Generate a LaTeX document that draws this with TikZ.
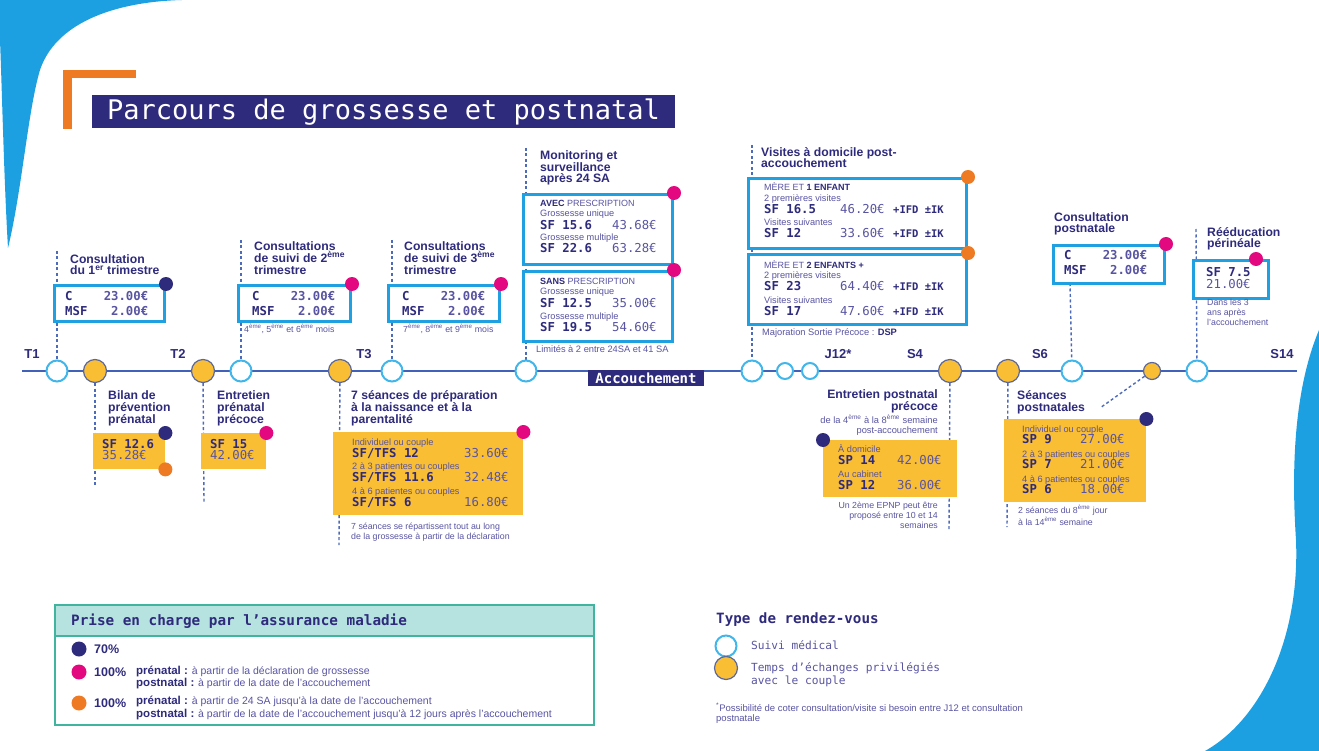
\documentclass[tikz,border=0pt]{standalone}
\usepackage{fontspec}
\setmainfont{Liberation Sans}
\newfontfamily\mono{DejaVu Sans Mono}
\usepackage{tikz}
\usetikzlibrary{backgrounds}

\definecolor{marine}{RGB}{46,42,124}
\definecolor{lilas}{RGB}{88,84,162}
\definecolor{cyanb}{RGB}{30,160,225}
\definecolor{ciel}{RGB}{64,182,234}
\definecolor{jaune}{RGB}{249,190,52}
\definecolor{grisbleu}{RGB}{90,104,158}
\definecolor{ligne}{RGB}{66,98,186}
\definecolor{pointill}{RGB}{78,106,186}
\definecolor{rose}{RGB}{228,8,128}
\definecolor{orangep}{RGB}{239,122,36}
\definecolor{vague}{RGB}{28,160,225}
\definecolor{turquoise}{RGB}{64,180,158}
\definecolor{bleuvert}{RGB}{182,226,223}

\newcommand{\fttl}{\fontsize{12.2}{11.7}\selectfont\bfseries}
\newcommand{\fcap}{\fontsize{9}{12}\selectfont}
\newcommand{\fsub}{\fontsize{9.2}{12}\selectfont\color{lilas}}
\newcommand{\fnote}{\fontsize{8.8}{9.6}\selectfont}
\newcommand{\fcode}{\fontsize{12.3}{12}\selectfont\mono\bfseries}
\newcommand{\fval}{\fontsize{12.3}{12}\selectfont\mono\color{lilas}}
\newcommand{\fifd}{\fontsize{10.5}{12}\selectfont\mono\bfseries}
\newcommand{\eme}{\textsuperscript{ème}}

\tikzstyle{suivi} = [circle, draw=ciel, line width=2, fill=white, minimum size=21, inner sep=0]
\tikzstyle{petit} = [suivi, minimum size=16]
\tikzstyle{temps} = [circle, draw=grisbleu, line width=1.2, fill=jaune, minimum size=23, inner sep=0]
\tikzstyle{tempsp} = [temps, minimum size=17]
\tikzstyle{cbox} = [draw=cyanb, line width=3, fill=white, anchor=north west, inner sep=0]
\tikzstyle{ybox} = [fill=jaune, anchor=north west, inner sep=0]
\tikzstyle{pnavy} = [circle, fill=marine, minimum size=14, inner sep=0]
\tikzstyle{prose} = [circle, fill=rose, minimum size=14, inner sep=0]
\tikzstyle{porange} = [circle, fill=orangep, minimum size=14, inner sep=0]
\tikzstyle{pointille} = [draw=pointill, line width=1.4, dash pattern=on 3pt off 2.5pt]
\tikzstyle{ttl} = [text=marine, font=\fttl, align=left, anchor=base west, inner sep=0]
\tikzstyle{boxtxt} = [text=marine, font=\fontsize{9}{12}\selectfont, align=left, anchor=base west, inner sep=0]
\tikzstyle{remarque} = [text=lilas, font=\fnote, align=left, anchor=base west, inner sep=0]
\tikzstyle{repere} = [text=marine, font=\fontsize{13}{13}\selectfont\bfseries, anchor=base, inner sep=0]
\tikzstyle{legtxt} = [text=marine, align=left, anchor=base west, inner sep=0]

\begin{document}
\begin{tikzpicture}[x=1pt, y=-1pt]
	\useasboundingbox (0,0) rectangle (1319,751);
	\fill[orangep] (63,70) rectangle (136,78);
	\fill[orangep] (63,70) rectangle (72,129);
	\node (titre) [fill=marine, text=white, anchor=north west, minimum height=33, inner xsep=15, inner ysep=0, font=\fontsize{27}{27}\selectfont\mono] at (92,95) {Parcours de grossesse et postnatal};

	\coordinate (tdeb) at (22,371);
	\coordinate (tfin) at (1297,371);
	\node (c1) [suivi] at (57,371) {};
	\node (c2) [temps] at (95,371) {};
	\node (c3) [temps] at (203,371) {};
	\node (c4) [suivi] at (241,371) {};
	\node (c5) [temps] at (340,371) {};
	\node (c6) [suivi] at (392,371) {};
	\node (c7) [suivi] at (526,371) {};
	\node (acc) [fill=marine, text=white, font=\fontsize{14}{14}\selectfont\mono\bfseries, minimum width=116, minimum height=16, inner sep=0] at (646,378) {Accouchement};
	\node (c8) [suivi] at (752,371) {};
	\node (c9) [petit] at (785,371) {};
	\node (c10) [petit] at (810,371) {};
	\node (c11) [temps] at (950,371) {};
	\node (c12) [temps] at (1008,371) {};
	\node (c13) [suivi] at (1072,371) {};
	\node (c14) [tempsp] at (1152,371) {};
	\node (c15) [suivi] at (1197,371) {};

	\node (lT1) [repere] at (32,358) {T1};
	\node (lT2) [repere] at (178,358) {T2};
	\node (lT3) [repere] at (364,358) {T3};
	\node (lJ12) [repere] at (838,358) {J12*};
	\node (lS4) [repere] at (915,358) {S4};
	\node (lS6) [repere] at (1040,358) {S6};
	\node (lS14) [repere] at (1282,358) {S14};

	\node (h1) [ttl] at (70,275) {Consultation\\du 1\textsuperscript{er} trimestre};
	\node (b1) [cbox, minimum width=110, minimum height=36] at (53,284) {};
	\node (p1) [pnavy] at (b1.north east) {};
	\node (v1) [boxtxt] at (65,315) {\makebox[83pt]{\fcode C\hfill\fval 23.00€}\\[3pt]\makebox[83pt]{\fcode MSF\hfill\fval 2.00€}};

	\node (h2) [ttl] at (254,274) {Consultations\\de suivi de 2\eme\\trimestre};
	\node (b2) [cbox, minimum width=112, minimum height=36] at (237,284) {};
	\node (p2) [prose] at (b2.north east) {};
	\node (v2) [boxtxt] at (252,315) {\makebox[83pt]{\fcode C\hfill\fval 23.00€}\\[3pt]\makebox[83pt]{\fcode MSF\hfill\fval 2.00€}};
	\node (n2) [remarque] at (244,332) {4\eme, 5\eme\ et 6\eme\ mois};

	\node (h3) [ttl] at (404,274) {Consultations\\de suivi de 3\eme\\trimestre};
	\node (b3) [cbox, minimum width=111, minimum height=36] at (387,284) {};
	\node (p3) [prose] at (b3.north east) {};
	\node (v3) [boxtxt] at (402,315) {\makebox[83pt]{\fcode C\hfill\fval 23.00€}\\[3pt]\makebox[83pt]{\fcode MSF\hfill\fval 2.00€}};
	\node (n3) [remarque] at (403,332) {7\eme, 8\eme\ et 9\eme\ mois};

	\node (hm) [ttl] at (540,183) {Monitoring et\\surveillance\\après 24 SA};
	\node (bm1) [cbox, minimum width=149, minimum height=70] at (522,193) {};
	\node (pm1) [prose] at (bm1.north east) {};
	\node (vm1) [boxtxt] at (540,253) {{\fcap\textbf{AVEC} {\color{lilas}PRESCRIPTION}}\\[-2pt]{\fsub Grossesse unique}\\[1pt]\makebox[72pt][l]{\fcode SF 15.6}{\fval 43.68€}\\[-0.5pt]{\fsub Grossesse multiple}\\\makebox[72pt][l]{\fcode SF 22.6}{\fval 63.28€}};
	\node (bm2) [cbox, minimum width=149, minimum height=70] at (522,270) {};
	\node (pm2) [prose] at (bm2.north east) {};
	\node (vm2) [boxtxt] at (540,331) {{\fcap\textbf{SANS} {\color{lilas}PRESCRIPTION}}\\[-2pt]{\fsub Grossesse unique}\\[1pt]\makebox[72pt][l]{\fcode SF 12.5}{\fval 35.00€}\\[-0.5pt]{\fsub Grossesse multiple}\\\makebox[72pt][l]{\fcode SF 19.5}{\fval 54.60€}};
	\node (nm) [remarque, font=\fontsize{9.3}{10}\selectfont] at (536,352) {Limités à 2 entre 24SA et 41 SA};

	\node (hv) [ttl] at (761,168) {Visites à domicile post-\\accouchement};
	\node (bv1) [cbox, minimum width=218, minimum height=70] at (747,177) {};
	\node (pv1) [porange] at (bv1.north east) {};
	\node (vv1) [boxtxt] at (764,238) {{\fcap{\color{lilas}MÈRE ET} \textbf{1 ENFANT}}\\[-1.5pt]{\fsub 2 premières visites}\\\makebox[76pt][l]{\fcode SF 16.5}\makebox[53pt][l]{\fval 46.20€}{\fifd +IFD ±IK}\\[0.5pt]{\fsub Visites suivantes}\\\makebox[76pt][l]{\fcode SF 12}\makebox[53pt][l]{\fval 33.60€}{\fifd +IFD ±IK}};
	\node (bv2) [cbox, minimum width=218, minimum height=70] at (747,253) {};
	\node (pv2) [porange] at (bv2.north east) {};
	\node (vv2) [boxtxt] at (764,315) {{\fcap{\color{lilas}MÈRE ET} \textbf{2 ENFANTS +}}\\[-1.5pt]{\fsub 2 premières visites}\\\makebox[76pt][l]{\fcode SF 23}\makebox[53pt][l]{\fval 64.40€}{\fifd +IFD ±IK}\\[0.5pt]{\fsub Visites suivantes}\\\makebox[76pt][l]{\fcode SF 17}\makebox[53pt][l]{\fval 47.60€}{\fifd +IFD ±IK}};
	\node (nv) [remarque, font=\fontsize{9.3}{10}\selectfont] at (762,335) {Majoration Sortie Précoce : {\color{marine}\bfseries DSP}};

	\node (hc) [ttl] at (1054,233) {Consultation\\postnatale};
	\node (bc) [cbox, minimum width=111, minimum height=38] at (1052,244) {};
	\node (pc) [prose] at (bc.north east) {};
	\node (vc) [boxtxt] at (1064,274) {\makebox[83pt]{\fcode C\hfill\fval 23.00€}\\[2pt]\makebox[83pt]{\fcode MSF\hfill\fval 2.00€}};
	\coordinate (kc) at (1070,283);

	\node (hr) [ttl] at (1207,248) {Rééducation\\périnéale};
	\node (br) [cbox, minimum width=75, minimum height=38] at (1192,259) {};
	\node (pr) [prose] at (1256,259) {};
	\node (vr) [boxtxt] at (1206,288) {{\fcode SF 7.5}\\{\fval 21.00€}};
	\node (nr) [remarque] at (1207,325) {Dans les 3\\ans après\\l’accouchement};

	\node (hb) [ttl] at (108,423) {Bilan de\\prévention\\prénatal};
	\node (yb) [ybox, minimum width=72, minimum height=36] at (93,433) {};
	\node (pb1) [pnavy] at (yb.north east) {};
	\node (pb2) [porange] at (yb.south east) {};
	\node (vb) [boxtxt] at (102,459) {{\fcode SF 12.6}\\[-1pt]{\fval 35.28€}};

	\node (he) [ttl] at (217,423) {Entretien\\prénatal\\précoce};
	\node (ye) [ybox, minimum width=65, minimum height=36] at (201,433) {};
	\node (pe) [prose] at (ye.north east) {};
	\node (ve) [boxtxt] at (210,459) {{\fcode SF 15}\\[-1pt]{\fval 42.00€}};

	\node (hs) [ttl] at (351,423) {7 séances de préparation\\à la naissance et à la\\parentalité};
	\node (ys) [ybox, minimum width=190, minimum height=83] at (333,432) {};
	\node (ps) [prose] at (ys.north east) {};
	\node (vs) [boxtxt] at (352,506) {{\fsub Individuel ou couple}\\\makebox[112pt][l]{\fcode SF/TFS 12}{\fval 33.60€}\\[0.5pt]{\fsub 2 à 3 patientes ou couples}\\\makebox[112pt][l]{\fcode SF/TFS 11.6}{\fval 32.48€}\\[0.5pt]{\fsub 4 à 6 patientes ou couples}\\\makebox[112pt][l]{\fcode SF/TFS 6}{\fval 16.80€}};
	\node (ns) [remarque] at (351,539) {7 séances se répartissent tout au long\\de la grossesse à partir de la déclaration};

	\node (hep) [ttl, align=right, anchor=base east] at (938,410) {Entretien postnatal\\précoce};
	\node (sep) [remarque, align=right, anchor=base east, font=\fontsize{9.3}{10}\selectfont] at (938,433) {de la 4\eme\ à la 8\eme\ semaine\\post-accouchement};
	\node (yep) [ybox, minimum width=134, minimum height=57] at (823,440) {};
	\node (pep) [pnavy] at (yep.north west) {};
	\node (vep) [boxtxt] at (838,489) {{\fsub À domicile}\\\makebox[59pt][l]{\fcode SP 14}{\fval 42.00€}\\[1pt]{\fsub Au cabinet}\\\makebox[59pt][l]{\fcode SP 12}{\fval 36.00€}};
	\node (nep) [remarque, align=right, anchor=base east] at (938,528) {Un 2ème EPNP peut être\\proposé entre 10 et 14\\semaines};

	\node (hsp) [ttl] at (1017,411) {Séances\\postnatales};
	\coordinate (ksp) at (1100,408);
	\node (ysp) [ybox, minimum width=142, minimum height=83] at (1004,419) {};
	\node (psp) [pnavy] at (ysp.north east) {};
	\node (vsp) [boxtxt] at (1022,493) {{\fsub Individuel ou couple}\\[-1.5pt]\makebox[58pt][l]{\fcode SP 9}{\fval 27.00€}\\[2pt]{\fsub 2 à 3 patientes ou couples}\\[-1pt]\makebox[58pt][l]{\fcode SP 7}{\fval 21.00€}\\[2.5pt]{\fsub 4 à 6 patientes ou couples}\\[-1.5pt]\makebox[58pt][l]{\fcode SP 6}{\fval 18.00€}};
	\node (nsp) [remarque] at (1018,525) {2 séances du 8\eme\ jour\\à la 14\eme\ semaine};

	\coordinate (k1) at (57,251);
	\coordinate (k2) at (95,485);
	\coordinate (k3) at (204,502);
	\coordinate (k4) at (241,240);
	\coordinate (k5) at (339,545);
	\coordinate (k6) at (392,240);
	\coordinate (k7) at (526,148);
	\coordinate (k8) at (752,145);
	\coordinate (k11) at (949,530);
	\coordinate (k12) at (1007,527);
	\coordinate (k15) at (1196,229);

	\node (lg) [draw=turquoise, line width=1.5, anchor=north west, minimum width=539, minimum height=120, inner sep=0] at (54,604) {};
	\node (lgh) [fill=bleuvert, draw=turquoise, line width=1.5, anchor=north west, minimum width=539, minimum height=31, inner sep=0] at (54,604) {};
	\node (lgt) [legtxt, font=\fontsize{14.3}{14}\selectfont\mono\bfseries] at (71,625) {Prise en charge par l’assurance maladie};
	\node (lp1) [pnavy, minimum size=15] at (79,649) {};
	\node (lt1) [legtxt, font=\fontsize{12.5}{12}\selectfont\bfseries] at (94,653) {70\%};
	\node (lp2) [prose, minimum size=15] at (79,672) {};
	\node (lt2) [legtxt, font=\fontsize{12.5}{12}\selectfont\bfseries] at (94,676) {100\%};
	\node (ld2) [legtxt, font=\fontsize{10.5}{11.5}\selectfont] at (136,686) {{\fontsize{11.5}{11.5}\selectfont\bfseries prénatal :} {\color{lilas}à partir de la déclaration de grossesse}\\{\fontsize{11.5}{11.5}\selectfont\bfseries postnatal :} {\color{lilas}à partir de la date de l’accouchement}};
	\node (lp3) [porange, minimum size=15] at (79,703) {};
	\node (lt3) [legtxt, font=\fontsize{12.5}{12}\selectfont\bfseries] at (94,707) {100\%};
	\node (ld3) [legtxt, font=\fontsize{10.5}{12.5}\selectfont] at (136,717) {{\fontsize{11.5}{11.5}\selectfont\bfseries prénatal :} {\color{lilas}à partir de 24 SA jusqu’à la date de l’accouchement}\\{\fontsize{11.5}{11.5}\selectfont\bfseries postnatal :} {\color{lilas}à partir de la date de l’accouchement jusqu’à 12 jours après l’accouchement}};

	\node (rdv) [legtxt, font=\fontsize{14.2}{14}\selectfont\mono\bfseries] at (716,623) {Type de rendez-vous};
	\node (rs) [suivi] at (726,646) {};
	\node (rst) [legtxt, text=lilas, font=\fontsize{11.2}{12.5}\selectfont\mono] at (751,649) {Suivi médical};
	\node (rt) [temps] at (726,668) {};
	\node (rtt) [legtxt, text=lilas, font=\fontsize{11.2}{12.5}\selectfont\mono] at (751,684) {Temps d’échanges privilégiés\\avec le couple};
	\node (fn) [remarque, font=\fontsize{9.5}{10}\selectfont] at (716,721) {\textsuperscript{*}Possibilité de coter consultation/visite si besoin entre J12 et consultation\\postnatale};

	\begin{pgfonlayer}{background}
		\fill[vague] (0,0) -- (182,0) .. controls (110,2) and (55,25) .. (40,70) .. controls (28,110) and (22,190) .. (8,248) .. controls (4,180) and (2,90) .. (0,40) -- cycle;
		\fill[vague] (1319,330) .. controls (1298,380) and (1290,450) .. (1296,540) .. controls (1300,640) and (1260,720) .. (1205,751) -- (1319,751) -- cycle;
		\draw[ligne, line width=2] (tdeb) -- (tfin);
		\draw[pointille] (k1) -- (c1);
		\draw[pointille] (c2) -- (k2);
		\draw[pointille] (c3) -- (k3);
		\draw[pointille] (k4) -- (c4);
		\draw[pointille] (c5) -- (k5);
		\draw[pointille] (k6) -- (c6);
		\draw[pointille] (k7) -- (c7);
		\draw[pointille] (k8) -- (c8);
		\draw[pointille] (c11) -- (k11);
		\draw[pointille] (c12) -- (k12);
		\draw[pointille] (kc) -- (c13);
		\draw[pointille] (c14) -- (ksp);
		\draw[pointille] (k15) -- (c15);
	\end{pgfonlayer}
\end{tikzpicture}
\end{document}
